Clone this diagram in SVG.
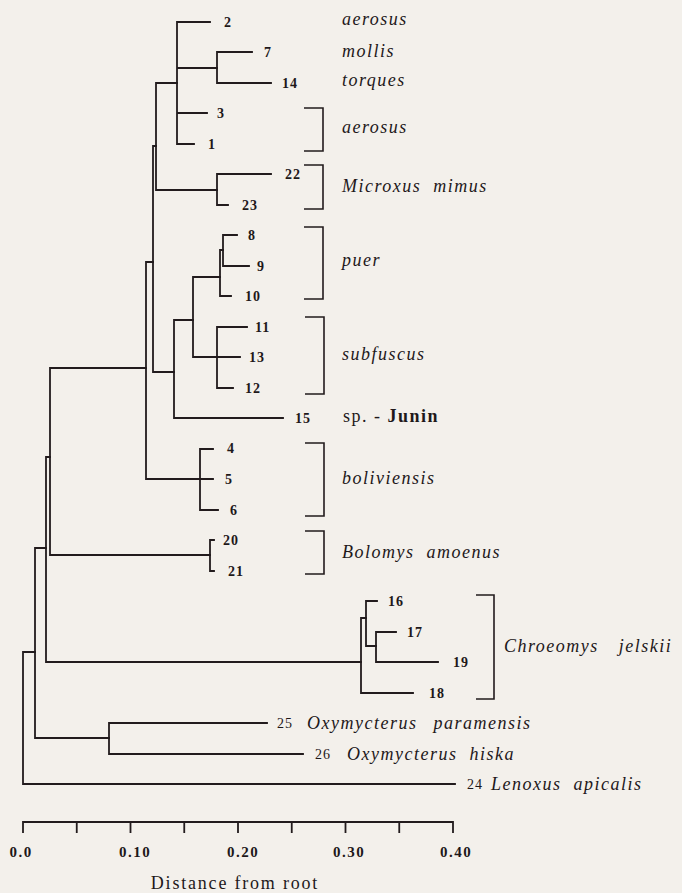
<svg xmlns="http://www.w3.org/2000/svg" width="682" height="893" viewBox="0 0 682 893">
<style>
.ln{fill:none;stroke:#221b1d;stroke-width:1.8;stroke-linecap:square}
.br{fill:none;stroke:#221b1d;stroke-width:1.6}
.num{font-family:"Liberation Serif","Times New Roman",serif;font-size:14px;font-weight:bold;fill:#1e181a;letter-spacing:1px}
.num2{font-family:"Liberation Serif","Times New Roman",serif;font-size:14px;fill:#1e181a;letter-spacing:1px}
.tax{font-family:"Liberation Serif","Times New Roman",serif;font-size:18px;font-style:italic;fill:#1e181a;letter-spacing:1.5px}
.up{font-family:"Liberation Serif","Times New Roman",serif;font-size:18px;fill:#1e181a;letter-spacing:1.5px}
.ax{font-family:"Liberation Serif","Times New Roman",serif;font-size:15px;font-weight:bold;fill:#1e181a;letter-spacing:1.5px;text-anchor:middle}
.title{font-family:"Liberation Serif","Times New Roman",serif;font-size:18px;fill:#1e181a;letter-spacing:1.8px;text-anchor:middle}
</style>
<rect width="682" height="893" fill="#f3f0eb"/>
<g id="connectors">
<path class="ln" d="M23,652V784M23,784H455M23,652H35"/>
<path class="ln" d="M35,548V738M35,738H109M35,548H46"/>
<path class="ln" d="M109,723V754M109,723H267M109,754H303"/>
<path class="ln" d="M46,457V662M46,662H361M46,457H50"/>
<path class="ln" d="M361,618V693M361,693H413M361,618H366"/>
<path class="ln" d="M366,601V646M366,601H377M366,646H376"/>
<path class="ln" d="M376,632V662M376,632H396M376,662H438"/>
<path class="ln" d="M50,368V555M50,555H210M50,368H146"/>
<path class="ln" d="M210,540V571M210,540H214M210,571H214"/>
<path class="ln" d="M146,262V479M146,479H200M146,262H153"/>
<path class="ln" d="M200,449V510M200,449H213M200,479H213M200,510H218"/>
<path class="ln" d="M153,146V372M153,146H156M153,372H174"/>
<path class="ln" d="M174,320V418M174,418H283M174,320H193"/>
<path class="ln" d="M193,277V357M193,277H220M193,357H240"/>
<path class="ln" d="M217,327V388M217,327H247M217,388H233"/>
<path class="ln" d="M220,250V296M220,250H223M220,296H231"/>
<path class="ln" d="M223,235V266M223,235H237M223,266H249"/>
<path class="ln" d="M156,83V190M156,83H177M156,190H217"/>
<path class="ln" d="M177,22V144M177,22H210M177,68H217M177,113H207M177,144H194"/>
<path class="ln" d="M217,52V83M217,52H252M217,83H271"/>
<path class="ln" d="M217,174V205M217,174H271M217,205H228"/>
</g>
<g id="leaf-2"><text class="num" x="224" y="27">2</text></g>
<g id="leaf-7"><text class="num" x="264" y="57">7</text></g>
<g id="leaf-14"><text class="num" x="282" y="88">14</text></g>
<g id="leaf-3"><text class="num" x="217" y="118">3</text></g>
<g id="leaf-1"><text class="num" x="208" y="149">1</text></g>
<g id="leaf-22"><text class="num" x="285" y="179">22</text></g>
<g id="leaf-23"><text class="num" x="242" y="210">23</text></g>
<g id="leaf-8"><text class="num" x="248" y="240">8</text></g>
<g id="leaf-9"><text class="num" x="257" y="271">9</text></g>
<g id="leaf-10"><text class="num" x="245" y="301">10</text></g>
<g id="leaf-11"><text class="num" x="255" y="332">11</text></g>
<g id="leaf-13"><text class="num" x="249" y="362">13</text></g>
<g id="leaf-12"><text class="num" x="245" y="393">12</text></g>
<g id="leaf-15"><text class="num" x="295" y="423">15</text></g>
<g id="leaf-4"><text class="num" x="227" y="453">4</text></g>
<g id="leaf-5"><text class="num" x="225" y="484">5</text></g>
<g id="leaf-6"><text class="num" x="230" y="515">6</text></g>
<g id="leaf-20"><text class="num" x="223" y="545">20</text></g>
<g id="leaf-21"><text class="num" x="228" y="576">21</text></g>
<g id="leaf-16"><text class="num" x="388" y="606">16</text></g>
<g id="leaf-17"><text class="num" x="407" y="637">17</text></g>
<g id="leaf-19"><text class="num" x="453" y="667">19</text></g>
<g id="leaf-18"><text class="num" x="429" y="698">18</text></g>
<g id="leaf-25"><text class="num2" x="277" y="728">25</text></g>
<g id="leaf-26"><text class="num2" x="315" y="759">26</text></g>
<g id="leaf-24"><text class="num2" x="467" y="789">24</text></g>
<g id="label-aerosus-1"><text class="tax" x="342" y="25">aerosus</text></g>
<g id="label-mollis"><text class="tax" x="342" y="57">mollis</text></g>
<g id="label-torques"><text class="tax" x="342" y="86">torques</text></g>
<g id="label-aerosus-2"><path class="br" d="M304,108H323V151H304"/><text class="tax" x="342" y="133">aerosus</text></g>
<g id="label-microxus"><path class="br" d="M304,165H323V209H304"/><text class="tax" x="342" y="192" word-spacing="6">Microxus mimus</text></g>
<g id="label-puer"><path class="br" d="M304,227H323V299H304"/><text class="tax" x="342" y="266">puer</text></g>
<g id="label-subfuscus"><path class="br" d="M305,317H324V394H305"/><text class="tax" x="342" y="360">subfuscus</text></g>
<g id="label-junin"><text class="up" x="343" y="422">sp. - <tspan font-weight="bold">Junin</tspan></text></g>
<g id="label-boliviensis"><path class="br" d="M305,443H324V516H305"/><text class="tax" x="342" y="484">boliviensis</text></g>
<g id="label-bolomys"><path class="br" d="M305,531H324V574H305"/><text class="tax" x="342" y="558" word-spacing="6">Bolomys amoenus</text></g>
<g id="label-chroeomys"><path class="br" d="M476,595H494V699H476"/><text class="tax" x="504" y="652" word-spacing="14">Chroeomys jelskii</text></g>
<g id="label-paramensis"><text class="tax" x="307" y="729" word-spacing="10">Oxymycterus paramensis</text></g>
<g id="label-hiska"><text class="tax" x="347" y="760" word-spacing="6">Oxymycterus hiska</text></g>
<g id="label-lenoxus"><text class="tax" x="491" y="790" word-spacing="6">Lenoxus apicalis</text></g>
<g id="axis">
<path class="ln" d="M23,822H453M23,822V832M76.75,822V832M130.5,822V832M184.25,822V832M238,822V832M291.75,822V832M345.5,822V832M399.25,822V832M453,822V832"/>
<text class="ax" x="21" y="857">0.0</text>
<text class="ax" x="135" y="857">0.10</text>
<text class="ax" x="243" y="857">0.20</text>
<text class="ax" x="349" y="857">0.30</text>
<text class="ax" x="456" y="857">0.40</text>
<text class="title" x="235" y="889">Distance from root</text>
</g>
</svg>
